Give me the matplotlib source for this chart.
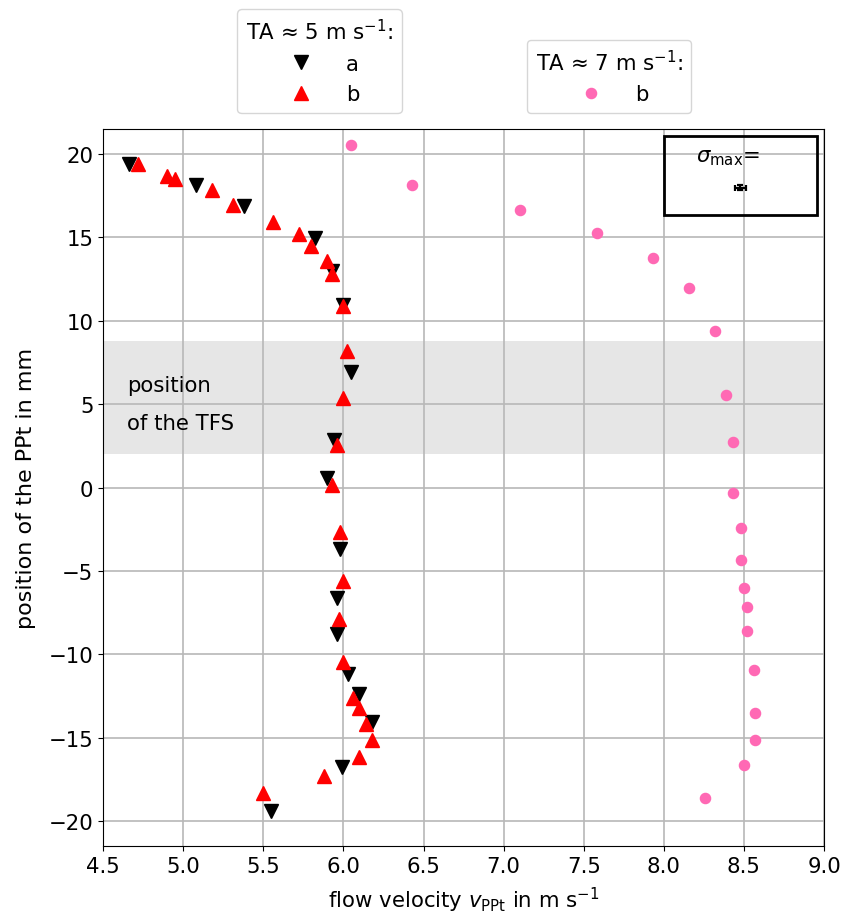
"""Flow velocity profile of the PPt across the channel height."""

import matplotlib
import numpy as np

matplotlib.use("Agg")
import matplotlib.pyplot as plt
from matplotlib.patches import Rectangle

# TA ~ 5 m/s, run a
v_5a = [4.66, 5.08, 5.38, 5.82, 5.93, 6.00, 6.05, 5.94, 5.90, 5.98,
        5.96, 5.96, 6.03, 6.10, 6.18, 5.99, 5.55]
y_5a = [19.4, 18.1, 16.85, 14.95, 12.95, 10.95, 6.9, 2.85, 0.6, -3.7,
        -6.6, -8.75, -11.15, -12.35, -14.05, -16.75, -19.4]

# TA ~ 5 m/s, run b
v_5b = [4.72, 4.90, 4.95, 5.18, 5.31, 5.56, 5.72, 5.80, 5.90, 5.93, 6.00,
        6.02, 6.00, 5.96, 5.93, 5.98, 6.00, 5.97, 6.00, 6.06, 6.10, 6.14,
        6.18, 6.10, 5.88, 5.50]
y_5b = [19.4, 18.65, 18.5, 17.8, 16.95, 15.9, 15.2, 14.45, 13.6, 12.8, 10.9,
        8.2, 5.35, 2.55, 0.15, -2.65, -5.6, -7.9, -10.45, -12.6, -13.2, -14.2,
        -15.1, -16.15, -17.3, -18.3]

# TA ~ 7 m/s, run b
v_7b = [6.05, 6.43, 7.10, 7.58, 7.93, 8.16, 8.32, 8.39, 8.43, 8.43,
        8.48, 8.48, 8.50, 8.52, 8.52, 8.56, 8.57, 8.57, 8.50, 8.26]
y_7b = [20.55, 18.1, 16.6, 15.25, 13.75, 11.95, 9.35, 5.55, 2.7, -0.35,
        -2.4, -4.35, -6.0, -7.15, -8.6, -10.95, -13.5, -15.1, -16.6, -18.6]

# largest measurement uncertainty (shown once as an example bar)
sigma_v, sigma_y = 0.032, 0.15

plt.rcParams["font.size"] = 15.3

fig = plt.figure(figsize=(8.46, 9.2), dpi=100)
ax = fig.add_axes([0.122, 0.079, 0.852, 0.78])

ax.axhspan(2.0, 8.8, facecolor="#e6e6e6", edgecolor="none", zorder=0)
ax.text(4.65, 5.0, "position\n\nof the TFS", ha="left", va="center",
        linespacing=0.92)

h_a, = ax.plot(v_5a, y_5a, "v", color="black", markersize=9.5, linestyle="none")
h_b, = ax.plot(v_5b, y_5b, "^", color="red", markersize=9.5, linestyle="none")
h_c, = ax.plot(v_7b, y_7b, "o", color="#ff69b4", markersize=7.3, linestyle="none")

# uncertainty box in the top right corner
ax.add_patch(Rectangle((8.0, 16.3), 0.955, 4.75, fill=False,
                       edgecolor="black", linewidth=2, zorder=5))
ax.text(8.40, 19.8, r"$\sigma_{\mathrm{max}}$=", ha="center", va="center", zorder=6)
ax.errorbar([8.478], [17.95], xerr=sigma_v, yerr=sigma_y, fmt="none",
            ecolor="black", elinewidth=1.6, capsize=2.5, capthick=1.6, zorder=6)

ax.set_xlim(4.5, 9.0)
ax.set_ylim(-21.5, 21.5)
ax.set_xticks(np.arange(4.5, 9.01, 0.5))
ax.set_yticks(np.arange(-20, 21, 5))
ax.grid(True, color="#b8b8b8", linewidth=1.2)
ax.set_xlabel(r"flow velocity $v_{\mathrm{PPt}}$ in m s$^{-1}$", labelpad=6)
ax.set_ylabel("position of the PPt in mm", fontsize=16, labelpad=9)

leg1 = ax.legend([h_a, h_b], ["a", "b"], title=r"TA ≈ 5 m s$^{-1}$:",
                 loc="lower center", bbox_to_anchor=(0.30, 1.022),
                 borderaxespad=0, handletextpad=1.1, title_fontsize=15.3)
ax.add_artist(leg1)
ax.legend([h_c], ["b"], title=r"TA ≈ 7 m s$^{-1}$:",
          loc="lower center", bbox_to_anchor=(0.702, 1.022),
          borderaxespad=0, handletextpad=1.1, title_fontsize=15.3)

fig.savefig("out.png", dpi=100)
